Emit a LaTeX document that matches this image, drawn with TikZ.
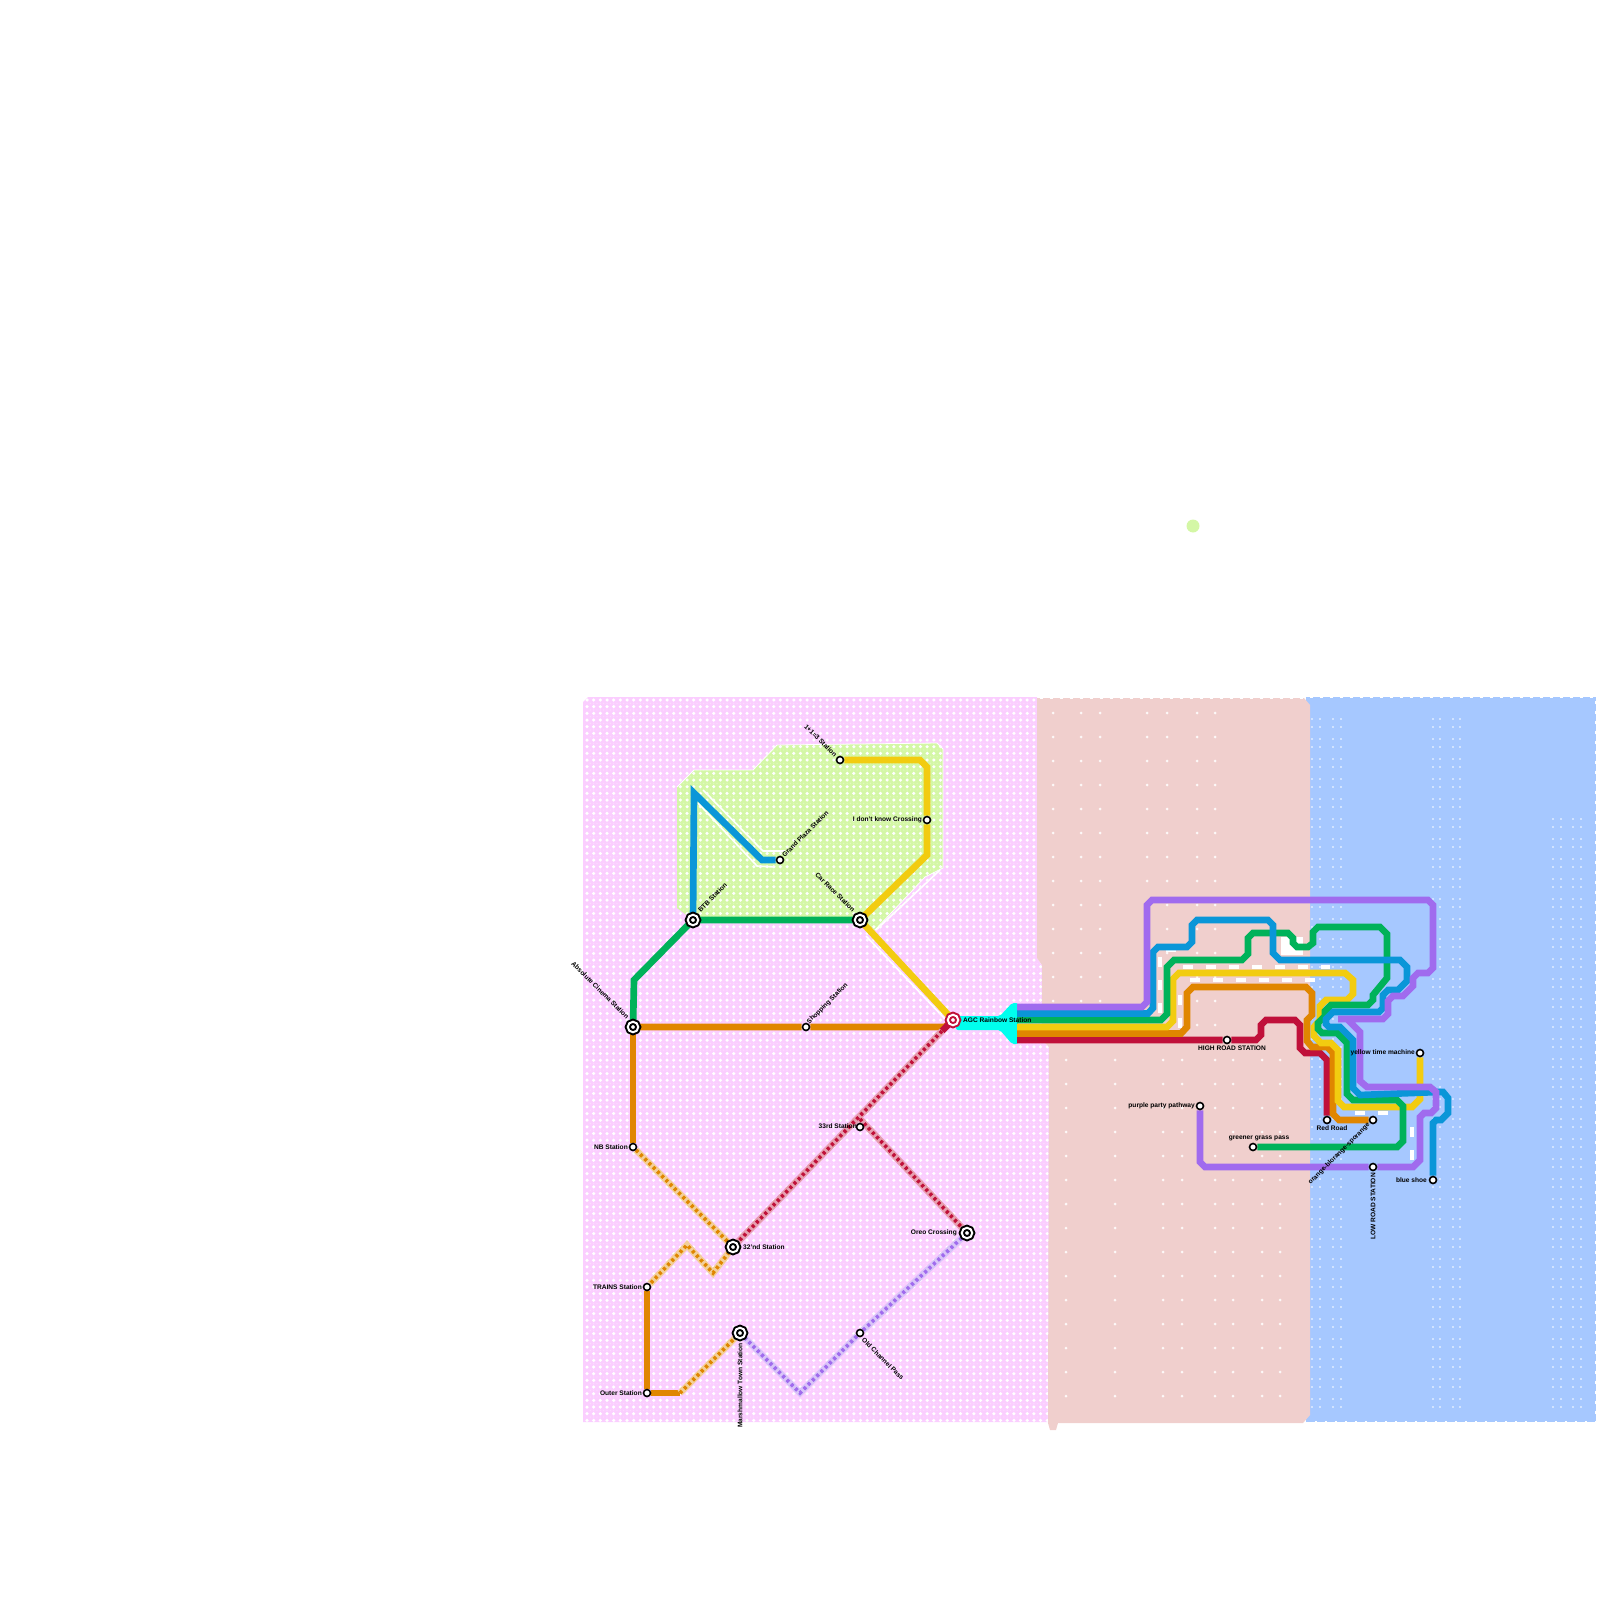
\documentclass[tikz,border=0pt]{standalone}
\usepackage{fontspec}
\setmainfont{Liberation Sans}
\usetikzlibrary{calc,backgrounds}
\definecolor{pinkarea}{HTML}{FBCEFF}
\definecolor{limearea}{HTML}{D4F7A6}
\definecolor{brownarea}{HTML}{F0CFCD}
\definecolor{bluearea}{HTML}{A6C8FF}
\definecolor{linered}{HTML}{C0103A}
\definecolor{lineorange}{HTML}{E08600}
\definecolor{lineyellow}{HTML}{F2CC10}
\definecolor{linegreen}{HTML}{00B25A}
\definecolor{lineblue}{HTML}{0A96D8}
\definecolor{linepurple}{HTML}{A06BEE}
\definecolor{agccyan}{HTML}{00FFEE}
\tikzset{
  stn/.style={circle, draw=black, fill=white, line width=1.6pt, minimum size=7pt, inner sep=0pt},
  hub/.style={circle, draw=black, fill=white, line width=2pt, double=white, double distance=2pt,
    minimum size=10.5pt, inner sep=0pt},
  agchub/.style={hub, draw=linered},
  lbl/.style={font=\fontsize{6.6}{8}\selectfont\bfseries, text=black, inner sep=0pt},
  % metro lines
  metro/.style={line width=6.67pt},
  dashmetro/.style={line width=3.6pt, dash pattern=on 3pt off 3pt,
    preaction={draw=#1!40, line width=6.67pt, solid}},
  % lattice of the areas
  dotrow/.style={white, line width=3.5pt, line cap=round, dash pattern=on 0pt off 6.67pt},
  faintrow/.style={white, opacity=0.3, line width=1.4pt, line cap=round, dash pattern=on 0pt off 3.335pt},
  gapdash/.style={white, line width=4.5pt, dash pattern=on 10pt off 13pt},
  halo/.style={white, line width=1.6pt},
  rimdots/.style={white, line width=1.6pt, dash pattern=on 2.5pt off 7.5pt},
}
\def\pinkoutline{(583,702) -- (588,697) -- (1037,697) -- (1037,958) -- (1042,965) -- (1042,1040)
  -- (1049,1047) -- (1049,1422) -- (583,1422) -- cycle}
\begin{document}
\begin{tikzpicture}[x=1pt,y=-1pt]
  \useasboundingbox (0,0) rectangle (1600,1600);
  \begin{scope}[on background layer]
    \fill[limearea] (1193,526) circle (6.5);
    % areas
    \fill[bluearea] (1306,697) -- (1596,697) -- (1596,1422) -- (1306,1422) -- cycle;
    \fill[pinkarea] \pinkoutline;
    \fill[limearea] (677,787) -- (694,770) -- (753,770) -- (777,745) -- (937,743) -- (943,749)
      -- (943,868) -- (925,877) -- (875,930) -- (860,920) -- (693,920) -- (677,908) -- cycle;
    \draw[white, line width=0.8pt] (677,787) -- (694,770) -- (753,770) -- (777,745) -- (937,743)
      -- (943,749) -- (943,868) -- (925,877) -- (875,930);
    \begin{scope}
      \clip \pinkoutline;
      \foreach \row in {700,706.67,...,1422} {
        \draw[faintrow] (590.3,\row+3.33) -- (1050,\row+3.33);
        \draw[dotrow] (587,\row) -- (1050,\row);
      }
    \end{scope}
    \fill[brownarea] (1037,698) -- (1304,698) -- (1310,705) -- (1310,1415) -- (1303,1423) -- (1058,1423)
      -- (1056,1430) -- (1050,1430) -- (1048,1423) -- (1049,1047) -- (1042,1040) -- (1042,965)
      -- (1037,958) -- cycle;
    \foreach \cx in {1312,1320,1333,1341,1433,1440,1453,1460} {
      \foreach \cy in {719,739,...,1410} {
        \fill[white] (\cx,\cy) circle (0.8);
        \fill[white] (\cx,\cy+8) circle (0.8);
      }
    }
    \foreach \cx in {1553,1561,1573,1581} {
      \foreach \cy in {819,839,...,1410} {
        \fill[white] (\cx,\cy) circle (0.8);
        \fill[white] (\cx,\cy+8) circle (0.8);
      }
    }
    \foreach \cx in {1053,1081,1100,1147,1167,1197,1215} {
      \foreach \cy in {713,737,...,1040} {
        \fill[white!85!brownarea] (\cx,\cy) circle (1.5);
      }
    }
    \foreach \cx in {1066,1115,1163,1182,1215,1233,1262,1280} {
      \foreach \cy in {1060,1084,...,1410} {
        \fill[white!85!brownarea] (\cx,\cy) circle (1.5);
      }
    }
    \draw[rimdots] (1310,697) -- (1596,697) -- (1596,1422) -- (1310,1422);
    \draw[rimdots] (1040,698) -- (1304,698);
  \end{scope}

  % stations
  \node[stn] (oneplus) at (840,760) {};
  \node[stn] (idk) at (927,820) {};
  \node[stn] (grandplaza) at (780,860) {};
  \node[hub] (btb) at (693,920) {};
  \node[hub] (carrace) at (860,920) {};
  \node[hub] (absolute) at (633,1027) {};
  \node[stn] (shopping) at (806,1027) {};
  \node[agchub] (agc) at (953,1020) {};
  \node[stn] (thirdrd) at (860,1127) {};
  \node[stn] (nb) at (633,1147) {};
  \node[hub] (second) at (733,1247) {};
  \node[stn] (trains) at (647,1287) {};
  \node[stn] (outer) at (647,1393) {};
  \node[hub] (marshmallow) at (740,1333) {};
  \node[stn] (oldchannel) at (860,1333) {};
  \node[hub] (oreo) at (967,1233) {};
  \node[stn] (high) at (1227,1040) {};
  \node[stn] (party) at (1200,1106) {};
  \node[stn] (greener) at (1253,1147) {};
  \node[stn] (timemachine) at (1420,1053) {};
  \node[stn] (redroad) at (1327,1120) {};
  \node[stn] (orangestn) at (1373,1120) {};
  \node[stn] (lowroad) at (1373,1167) {};
  \node[stn] (blueshoe) at (1433,1180) {};

  \coordinate (purplestart) at (1017,1007);
  \coordinate (bluestart) at (1017,1013.5);
  \coordinate (greenstart) at (1017,1020);
  \coordinate (yellowstart) at (1017,1027);
  \coordinate (orangestart) at (1017,1033.5);
  \coordinate (redstart) at (1017,1040);
  \coordinate (agcstub) at (942,1031);
  \coordinate (thirdjoin) at (860,1119);

  % labels
  \node[lbl, rotate=-45, anchor=east] (oneplustxt) at ($(oneplus)+(-4,-4)$) {1+1=3 Station};
  \node[lbl, anchor=east] (idktxt) at ($(idk)+(-5,0)$) {I don't know Crossing};
  \node[lbl, rotate=45, anchor=west] (grandplazatxt) at ($(grandplaza)+(3,-4)$) {Grand Plaza Station};
  \node[lbl, rotate=45, anchor=west] (btbtxt) at ($(btb)+(6,-9)$) {BTB Station};
  \node[lbl, rotate=-45, anchor=east] (carracetxt) at ($(carrace)+(-6,-9)$) {Car Race Station};
  \node[lbl, rotate=-45, anchor=east] (absolutetxt) at ($(absolute)+(-5,-9)$) {Absolute Cinema Station};
  \node[lbl, rotate=45, anchor=west] (shoppingtxt) at ($(shopping)+(2,-4)$) {Shopping Station};
  \node[lbl, anchor=west] (agctxt) at ($(agc)+(10,0)$) {AGC Rainbow Station};
  \node[lbl, anchor=east] (thirdrdtxt) at ($(thirdrd)+(-3,-1)$) {33rd Station};
  \node[lbl, anchor=east] (nbtxt) at ($(nb)+(-5,0)$) {NB Station};
  \node[lbl, anchor=west] (secondtxt) at ($(second)+(10,0)$) {32'nd Station};
  \node[lbl, anchor=east] (trainstxt) at ($(trains)+(-5,0)$) {TRAINS Station};
  \node[lbl, anchor=east] (outertxt) at ($(outer)+(-5,0)$) {Outer Station};
  \node[lbl, rotate=90, anchor=east] (marshmallowtxt) at ($(marshmallow)+(0,10)$) {Marshmallow Town Station};
  \node[lbl, rotate=-45, anchor=west] (oldchanneltxt) at ($(oldchannel)+(3,6)$) {Old Channel Pass};
  \node[lbl, anchor=east] (oreotxt) at ($(oreo)+(-10,0)$) {Oreo Crossing};
  \node[lbl] (hightxt) at (1232,1048) {HIGH ROAD STATION};
  \node[lbl, anchor=east] (partytxt) at ($(party)+(-5,0)$) {purple party pathway};
  \node[lbl] (greenertxt) at (1259,1138) {greener grass pass};
  \node[lbl, anchor=east] (timemachinetxt) at ($(timemachine)+(-5,0)$) {yellow time machine};
  \node[lbl] (redroadtxt) at (1332,1128) {Red Road};
  \node[lbl, rotate=45, anchor=east] (orangetxt) at ($(orangestn)+(-4,4)$) {orange-blorange-sporange};
  \node[lbl, rotate=90, anchor=east] (lowroadtxt) at ($(lowroad)+(0,6)$) {LOW ROAD STATION};
  \node[lbl, anchor=east] (blueshoetxt) at ($(blueshoe)+(-6,0)$) {blue shoe};

  \begin{scope}[on background layer]
    \fill[agccyan, rounded corners=2pt] (956,1016) -- (1000,1016) -- (1012,1003) -- (1018,1003)
      -- (1018,1044) -- (1012,1044) -- (1000,1030) -- (956,1030) -- cycle;
    % white gaps beside the lines
    \fill[white] (1281,937) -- (1303,937) -- (1303,955) -- (1281,955) -- cycle;
    \draw[halo] (698,803) -- (757,866) -- (775,867);
    \draw[halo] (703,790) -- (763,851) -- (785,851);
    \draw[halo] (866,936) -- (946,1020);
    \draw[halo] (876,930) -- (940,870);
    \draw[gapdash] (1160,1013) -- (1160,950) -- (1180,950);
    \draw[gapdash] (1183,967) -- (1330,967);
    \draw[gapdash] (1190,980) -- (1320,980);
    \draw[gapdash] (1180,1028) -- (1180,990);
    \draw[gapdash] (1355,1113) -- (1400,1113);
    \draw[gapdash] (1412,1160) -- (1412,1115);

    % short lines on the pink side
    \draw[metro, linegreen] (absolute) -- (634,980) -- (btb) -- (carrace);
    \draw[metro, lineyellow] (oneplus) -- (920,760) -- (927,767) -- (idk) -- (927,855) -- (carrace) -- (agc);
    \draw[metro, lineblue] (grandplaza) -- (762,860) -- (694,793) -- (btb);
    \draw[metro, lineorange] (absolute) -- (shopping) -- (945,1027) -- (agc);
    \draw[metro, lineorange] (absolute) -- (nb);
    \draw[metro, lineorange] (trains) -- (outer) -- (680,1393);
    \draw[metro, linered] (agc) -- (agcstub);
    \draw[dashmetro=lineorange, lineorange] (nb) -- (second) -- (713,1273) -- (687,1245) -- (trains);
    \draw[dashmetro=lineorange, lineorange] (680,1393) -- (marshmallow);
    \draw[dashmetro=linepurple, linepurple] (marshmallow) -- (800,1393) -- (oldchannel) -- (oreo);
    \draw[dashmetro=linered, linered] (agcstub) -- (second);
    \draw[dashmetro=linered, linered] (thirdjoin) -- (oreo);

    % the bundle
    \draw[metro, linered] (redstart) -- (high) -- (1256,1040) -- (1261,1035) -- (1261,1025) -- (1266,1020)
      -- (1295,1020) -- (1300,1025) -- (1300,1048) -- (1305,1053) -- (1320,1053) -- (1327,1060) -- (redroad);
    \draw[metro, lineorange] (orangestart) -- (1181,1033.5) -- (1187,1027) -- (1187,993) -- (1193,987)
      -- (1306,987) -- (1312,993) -- (1312,1015) -- (1307,1020) -- (1307,1041) -- (1312,1047)
      -- (1327,1047) -- (1333,1053) -- (1333,1114) -- (1339,1120) -- (orangestn);
    \draw[metro, lineyellow] (yellowstart) -- (1167,1027) -- (1173,1021) -- (1173,979) -- (1179,973)
      -- (1345,973) -- (1353,980) -- (1353,994) -- (1347,1000) -- (1326,1000) -- (1320,1006)
      -- (1320,1020) -- (1314,1027) -- (1314,1036) -- (1321,1043) -- (1331,1043) -- (1338,1050)
      -- (1338,1101) -- (1344,1107) -- (1412,1107) -- (1420,1099) -- (timemachine);
    \draw[metro, linegreen] (greenstart) -- (1161,1020) -- (1167,1014) -- (1167,967) -- (1174,960)
      -- (1242,960) -- (1248,954) -- (1248,938) -- (1253,933) -- (1288,933) -- (1293,938) -- (1293,943)
      -- (1297,947) -- (1308,947) -- (1313,943) -- (1313,932) -- (1318,927) -- (1380,927) -- (1387,934)
      -- (1387,978) -- (1373,995) -- (1373,1000) -- (1368,1005) -- (1331,1005) -- (1325,1011)
      -- (1325,1016) -- (1318,1023) -- (1318,1029) -- (1322,1033) -- (1337,1033) -- (1347,1043)
      -- (1347,1094) -- (1353,1100) -- (1397,1100) -- (1403,1106) -- (1403,1141) -- (1397,1147) -- (greener);
    \draw[metro, lineblue] (bluestart) -- (1148,1013.5) -- (1153,1008) -- (1153,952) -- (1158,947)
      -- (1187,947) -- (1192,942) -- (1192,925) -- (1197,920) -- (1268,920) -- (1273,925) -- (1273,953)
      -- (1280,960) -- (1400,960) -- (1407,967) -- (1407,981) -- (1398,990) -- (1388,990) -- (1383,995)
      -- (1383,1008) -- (1379,1012) -- (1333,1012) -- (1326,1019) -- (1326,1024) -- (1329,1027)
      -- (1340,1027) -- (1353,1040) -- (1353,1088) -- (1360,1095) -- (1438,1092) -- (1443,1092)
      -- (1448,1098) -- (1448,1113) -- (1441,1120) -- (1436,1120) -- (1433,1123) -- (blueshoe);
    \draw[metro, linepurple] (purplestart) -- (1142,1007) -- (1147,1002) -- (1147,905) -- (1152,900)
      -- (1428,900) -- (1433,905) -- (1433,968) -- (1428,973) -- (1418,973) -- (1413,978) -- (1413,986)
      -- (1403,996) -- (1393,996) -- (1388,1001) -- (1388,1014) -- (1383,1019) -- (1338,1019)
      -- (1347,1019) -- (1360,1032) -- (1360,1081) -- (1367,1087) -- (1430,1087) -- (1436,1092)
      -- (1436,1108) -- (1431,1113) -- (1424,1113) -- (1420,1117) -- (1420,1160) -- (1413,1167)
      -- (lowroad) -- (1205,1167) -- (1200,1162) -- (party);
  \end{scope}
\end{tikzpicture}
\end{document}
